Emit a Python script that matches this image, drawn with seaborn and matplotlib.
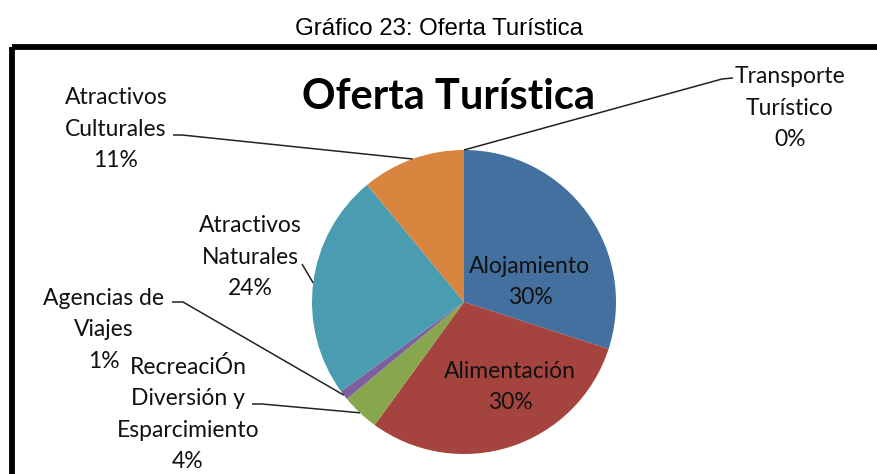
import matplotlib
matplotlib.use('Agg')
import matplotlib.pyplot as plt
import numpy as np
import seaborn as sns
from matplotlib.patches import Rectangle

# data
categories = ['Alojamiento', 'Alimentación', 'RecreaciÓn\nDiversión y\nEsparcimiento',
              'Agencias de\nViajes', 'Atractivos\nNaturales', 'Atractivos\nCulturales',
              'Transporte\nTurístico']
percent = [30, 30, 4, 1, 24, 11, 0]
colors = ['#44709f', '#a5443f', '#88a64d', '#7d5fa0', '#4a9cb1', '#d88540', '#44709f']

# label layout in pixel coords (y from top); None = label sits inside the slice
label_pos = [(530, 282), (510, 387), (188, 414), (104, 330), (250, 257), (116, 129), (790, 108)]
leader_start = [None, None, [(252, 404), (262, 404)], [(172, 302), (183, 302)],
                [(302, 264)], [(173, 135), (182, 135)], [(733, 78), (722, 79)]]

sns.set_theme(style='white')
plt.rcParams['font.family'] = ['Lato', 'DejaVu Sans']

W, H = 878, 474
fig = plt.figure(figsize=(W / 100, H / 100), dpi=100)
ax = fig.add_axes([0, 0, 1, 1])

cx, cy, r = 464, 302, 152
wedges, _ = ax.pie(percent, colors=colors, startangle=-90, counterclock=True,
                   center=(cx, cy), radius=r, frame=True,
                   wedgeprops=dict(linewidth=0))

for w, cat, p, pos, lead in zip(wedges, categories, percent, label_pos, leader_start):
    ax.text(pos[0], pos[1], f'{cat}\n{p}%', ha='center', va='center',
            fontsize=16.5, linespacing=1.6, color='#111111')
    if lead is None:
        continue
    ang = np.deg2rad((w.theta1 + w.theta2) / 2)
    ex, ey = cx + r * np.cos(ang), cy + r * np.sin(ang)
    xs = [q[0] for q in lead] + [ex]
    ys = [q[1] for q in lead] + [ey]
    ax.plot(xs, ys, color='#222222', lw=1.1, solid_capstyle='butt')

ax.text(449, 97, 'Oferta Turística', ha='center', va='center',
        fontsize=30, fontweight='bold', color='black')

# outer frame of the pasted chart
ax.add_patch(Rectangle((12, 47), 900, 460, fill=False, edgecolor='black', lw=4.2))

ax.text(W / 2, 29, 'Gráfico 23: Oferta Turística', ha='center', va='center',
        fontsize=17.3, family=['Liberation Sans', 'DejaVu Sans'], color='black')

ax.set_xlim(0, W)
ax.set_ylim(H, 0)
ax.set_aspect('equal')
ax.axis('off')

fig.savefig('out.png', dpi=100)
